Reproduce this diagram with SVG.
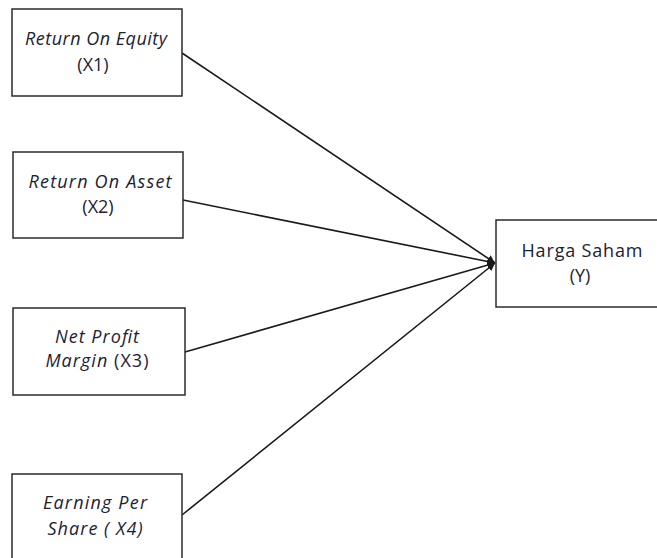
<svg xmlns="http://www.w3.org/2000/svg" width="657" height="558" viewBox="0 0 657 558">
<style>
.box{fill:#fff;stroke:#2b2b2b;stroke-width:1.5}
.t{font-family:"Open Sans","Liberation Sans",Arial,sans-serif;font-size:18px;fill:#1c2233;text-anchor:middle}
.i{font-style:italic}
.c{stroke:#1a1a1a;stroke-width:1.6;fill:none;marker-end:url(#ah)}
</style>
<defs>
<marker id="ah" viewBox="0 0 10 10" refX="10" refY="5" markerWidth="5" markerHeight="5" orient="auto" markerUnits="strokeWidth">
<path d="M0,0 L10,5 L0,10 z" fill="#1a1a1a"/>
</marker>
</defs>
<rect width="657" height="558" fill="#fff"/>
<g id="connectors">
<line class="c" x1="182" y1="53" x2="495" y2="263"/>
<line class="c" x1="183" y1="200" x2="495" y2="263"/>
<line class="c" x1="185" y1="352" x2="495" y2="263"/>
<line class="c" x1="182" y1="515" x2="495" y2="263"/>
</g>
<g id="x1">
<rect class="box" x="12" y="9" width="170" height="87"/>
<text class="t i" x="96" y="45" textLength="142" lengthAdjust="spacing">Return On Equity</text>
<text class="t" x="93" y="71">(X1)</text>
</g>
<g id="x2">
<rect class="box" x="13" y="152" width="170" height="86"/>
<text class="t i" x="100" y="188" textLength="143" lengthAdjust="spacing">Return On Asset</text>
<text class="t" x="98" y="213">(X2)</text>
</g>
<g id="x3">
<rect class="box" x="13" y="308" width="172" height="87"/>
<text class="t i" x="97" y="343" textLength="84" lengthAdjust="spacing">Net Profit</text>
<text class="t" x="97" y="367" textLength="103" lengthAdjust="spacing"><tspan class="i">Margin</tspan> (X3)</text>
</g>
<g id="x4">
<rect class="box" x="12" y="474" width="170" height="100"/>
<text class="t i" x="95" y="509" textLength="104" lengthAdjust="spacing">Earning Per</text>
<text class="t" x="95" y="535" textLength="95" lengthAdjust="spacing"><tspan class="i">Share ( X4)</tspan></text>
</g>
<g id="y">
<rect class="box" x="496" y="220" width="180" height="87"/>
<text class="t" x="582" y="257" textLength="121" lengthAdjust="spacing">Harga Saham</text>
<text class="t" x="580" y="282">(Y)</text>
</g>
</svg>
